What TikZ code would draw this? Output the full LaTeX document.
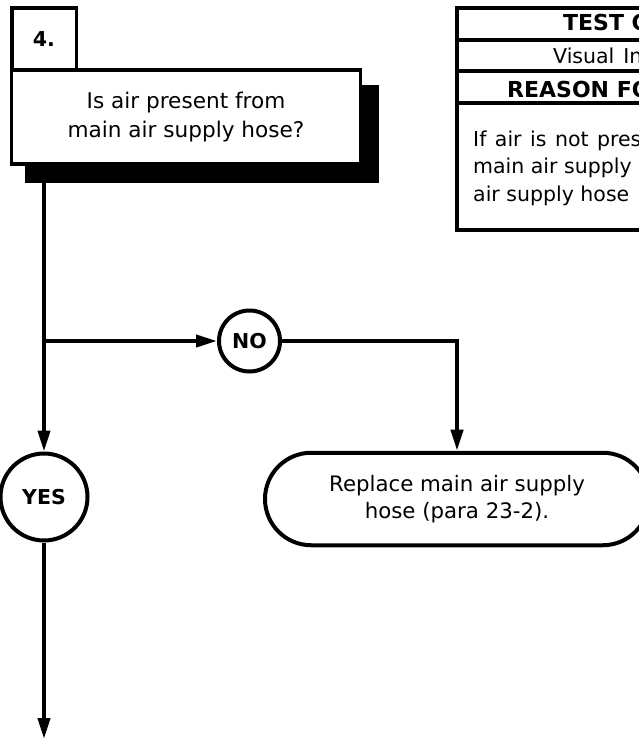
\documentclass[tikz,border=0pt]{standalone}
\usepackage{fontspec}
\setmainfont{DejaVu Sans}
\usetikzlibrary{shapes.misc,arrows.meta}
\begin{document}
\begin{tikzpicture}[x=1pt,y=-1pt,
  conn/.style={line width=4pt,-{Triangle[length=21pt,width=12pt]}},
  rule/.style={line width=4pt},
  qbox/.style={draw,line width=3.5pt,fill=white,inner sep=0pt,minimum width=349pt,minimum height=94pt,align=center,font=\fontsize{21.6}{28.5}\selectfont},
  numbox/.style={draw,line width=3.5pt,fill=white,inner sep=0pt,minimum width=64.5pt,minimum height=62pt,font=\bfseries\fontsize{20.5}{24}\selectfont},
  decision/.style={draw,circle,line width=4pt,fill=white,inner sep=0pt,font=\bfseries\fontsize{20.5}{24}\selectfont},
  termbox/.style={draw,rounded rectangle,line width=4pt,fill=white,inner sep=0pt,minimum width=384pt,minimum height=92.5pt,align=center,font=\fontsize{21.3}{27}\selectfont},
  tabhead/.style={anchor=base west,inner sep=0pt,font=\bfseries\fontsize{22}{26}\selectfont},
  tabtext/.style={anchor=base west,inner sep=0pt,font=\fontsize{20.5}{27.5}\selectfont},
]
\useasboundingbox (0,0) rectangle (639,740);
\clip (0,0) rectangle (639,740);

% question box with shadow
\fill (25,85) rectangle (379,183);
\node[qbox] (q) at (186,117) {Is air present from\\main air supply hose?};
\node[numbox] (num) at (44,39) {4.};

% side table (cut by the right edge)
\draw[rule] (700,8) -- (457,8) -- (457,230) -- (700,230);
\draw[rule] (457,40) -- (700,40);
\draw[rule] (457,71) -- (700,71);
\draw[rule] (457,102.5) -- (700,102.5);
\node[tabhead] (h1) at (563,30) {TEST C};
\node[tabtext] (h2) at (553,63) {\spaceskip=9pt Visual In};
\node[tabhead] (h3) at (507,97) {REASON FO};
\node[tabtext] (p1) at (473,146) {\spaceskip=8.5pt If air is not pres};
\node[tabtext] (p2) at (473,173.5) {main air supply};
\node[tabtext] (p3) at (473,201) {air supply hose};

% decisions and terminal
\node[decision,minimum size=87pt] (yes) at (44,497) {YES};
\node[decision,minimum size=61pt] (no) at (249.5,341) {NO};
\node[termbox] (rep) at (457,499) {Replace main air supply\\hose (para 23-2).};

% connectors
\coordinate (qs) at (44,183);
\coordinate (j) at (44,341);
\coordinate (end) at (44,739);
\draw[conn] (qs) -- (yes);
\draw[conn] (j) -- (no);
\draw[conn] (no) -| (rep);
\draw[conn] (yes) -- (end);
\end{tikzpicture}
\end{document}
